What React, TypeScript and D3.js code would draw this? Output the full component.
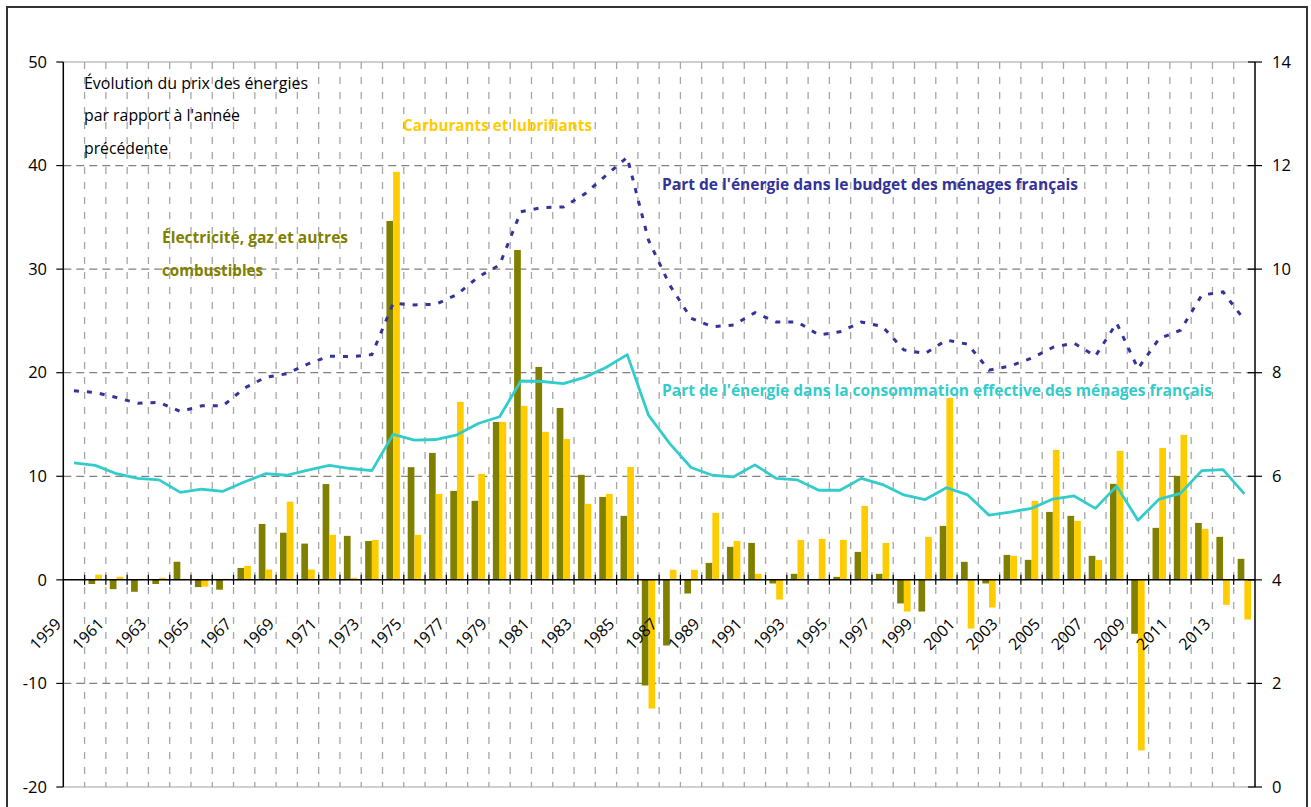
import React from "react";
import * as d3 from "d3";

// categories
const years = [
  1959, 1960, 1961, 1962, 1963, 1964, 1965, 1966, 1967, 1968,
  1969, 1970, 1971, 1972, 1973, 1974, 1975, 1976, 1977, 1978,
  1979, 1980, 1981, 1982, 1983, 1984, 1985, 1986, 1987, 1988,
  1989, 1990, 1991, 1992, 1993, 1994, 1995, 1996, 1997, 1998,
  1999, 2000, 2001, 2002, 2003, 2004, 2005, 2006, 2007, 2008,
  2009, 2010, 2011, 2012, 2013, 2014,
];

// price change vs previous year (%), left axis
const electricite = [
  null, -0.4, -0.9, -1.15, -0.4, 1.75, -0.7, -0.95, 1.15, 5.4,
  4.55, 3.5, 9.25, 4.25, 3.75, 34.65, 10.88, 12.26, 8.59, 7.63,
  15.25, 31.85, 20.56, 16.6, 10.14, 8.01, 6.18, -10.2, -6.34, -1.32,
  1.64, 3.19, 3.57, -0.35, 0.58, 0, 0.29, 2.7, 0.58, -2.28,
  -3.06, 5.21, 1.74, -0.35, 2.41, 1.93, 6.56, 6.18, 2.32, 9.27,
  -5.21, 5.02, 10.04, 5.5, 4.15, 2.03,
];
const carburants = [
  null, 0.5, 0.3, 0, 0.2, 0.1, -0.65, 0.1, 1.35, 1.0,
  7.55, 1.0, 4.35, 0.2, 3.85, 39.4, 4.34, 8.3, 17.18, 10.23,
  15.25, 16.8, 14.29, 13.6, 7.34, 8.3, 10.9, -12.42, 0.97, 0.97,
  6.47, 3.76, 0.58, -1.9, 3.86, 3.96, 3.86, 7.14, 3.57, -3.06,
  4.15, 17.57, -4.7, -2.67, 2.32, 7.63, 12.55, 5.69, 1.93, 12.45,
  -16.47, 12.74, 14.0, 4.92, -2.41, -3.83,
];

// energy share (%), right axis
const partBudget = [
  7.65, 7.62, 7.52, 7.41, 7.43, 7.25, 7.36, 7.36, 7.7, 7.91,
  7.98, 8.17, 8.32, 8.31, 8.35, 9.34, 9.31, 9.32, 9.51, 9.85,
  10.08, 11.11, 11.19, 11.2, 11.45, 11.81, 12.16, 10.56, 9.69, 9.05,
  8.89, 8.92, 9.16, 8.98, 8.98, 8.73, 8.79, 8.98, 8.89, 8.44,
  8.37, 8.63, 8.55, 8.05, 8.13, 8.28, 8.49, 8.57, 8.32, 8.96,
  8.08, 8.66, 8.82, 9.5, 9.56, 9.02,
];
const partConso = [
  6.26, 6.21, 6.05, 5.96, 5.93, 5.69, 5.75, 5.71, 5.89, 6.05,
  6.02, 6.12, 6.21, 6.15, 6.11, 6.81, 6.7, 6.71, 6.8, 7.02,
  7.15, 7.84, 7.83, 7.79, 7.91, 8.1, 8.35, 7.18, 6.63, 6.17,
  6.02, 5.99, 6.22, 5.96, 5.93, 5.73, 5.73, 5.96, 5.84, 5.64,
  5.55, 5.78, 5.64, 5.25, 5.31, 5.38, 5.56, 5.62, 5.38, 5.81,
  5.15, 5.56, 5.67, 6.11, 6.13, 5.66,
];

const leftTicks = [-20, -10, 0, 10, 20, 30, 40, 50];
const rightTicks = [0, 2, 4, 6, 8, 10, 12, 14];
const yearLabels = years.filter((y) => y % 2 === 1);

const OLIVE = "#808000";
const YELLOW = "#FFCC00";
const NAVY = "#333399";
const CYAN = "#33CCCC";
const FONT = "'Open Sans', 'DejaVu Sans', sans-serif";

const width = 1311;
const height = 807;
const left = 63.3;
const right = 1255;
const top = 62;
const bottom = 787;

export default function App() {
  const x = d3.scaleBand<number>().domain(years).range([left, right]).padding(0);
  const bw = x.bandwidth();
  const yL = d3.scaleLinear().domain([-20, 50]).range([bottom, top]);
  const yR = d3.scaleLinear().domain([0, 14]).range([bottom, top]);
  const barW = bw * 0.315;

  const lineGen = d3
    .line<number>()
    .x((d, i) => (x(years[i]) as number) + bw / 2)
    .y((d) => yR(d));

  // band boundaries for grid + ticks
  const bounds = years.slice(1).map((y) => x(y) as number);

  return (
    <svg
      width={width}
      height={height}
      style={{ position: "absolute", left: 0, top: 0, background: "#fff" }}
      fontFamily={FONT}
    >
      <rect x={7} y={7} width={1300} height={840} fill="#fff" stroke="#333" strokeWidth={2} />

      {/* vertical grid */}
      {bounds.map((bx, i) => (
        <line key={"vg" + i} x1={bx} x2={bx} y1={top} y2={bottom} stroke="#a6a6a6" strokeWidth={1.3} strokeDasharray="7 8" />
      ))}
      {/* horizontal grid */}
      {leftTicks.filter((t) => t !== 0 && t !== 50 && t !== -20).map((t) => (
        <line key={"hg" + t} x1={left} x2={right} y1={yL(t)} y2={yL(t)} stroke="#808080" strokeWidth={1.3} strokeDasharray="8 5" />
      ))}
      <line x1={left} x2={right} y1={yL(50)} y2={yL(50)} stroke="#a0a0a0" strokeWidth={1.2} />
      <line x1={left} x2={right} y1={yL(-20)} y2={yL(-20)} stroke="#a0a0a0" strokeWidth={1.2} />

      {/* bars */}
      {years.map((yr, i) => {
        const cx = (x(yr) as number) + bw / 2;
        const e = electricite[i];
        const c = carburants[i];
        return (
          <g key={"b" + yr}>
            {e !== null && (
              <rect x={cx - barW} width={barW} y={yL(Math.max(0, e))} height={Math.abs(yL(e) - yL(0))} fill={OLIVE} />
            )}
            {c !== null && (
              <rect x={cx} width={barW} y={yL(Math.max(0, c))} height={Math.abs(yL(c) - yL(0))} fill={YELLOW} />
            )}
          </g>
        );
      })}

      {/* zero axis */}
      <line x1={left} x2={right} y1={yL(0)} y2={yL(0)} stroke="#000" strokeWidth={1.5} />
      {bounds.map((bx, i) => (
        <line key={"zt" + i} x1={bx} x2={bx} y1={yL(0) - 5} y2={yL(0) + 5} stroke="#000" strokeWidth={1.2} />
      ))}

      {/* left axis */}
      <line x1={left} x2={left} y1={top} y2={bottom} stroke="#000" strokeWidth={1.5} />
      {leftTicks.map((t) => (
        <g key={"lt" + t}>
          <line x1={left - 7} x2={left} y1={yL(t)} y2={yL(t)} stroke="#000" strokeWidth={1.2} />
          <text x={47} y={yL(t)} dy="0.35em" textAnchor="end" fontSize={16.5} fill="#000">
            {t}
          </text>
        </g>
      ))}

      {/* right axis */}
      <line x1={right} x2={right} y1={top} y2={bottom} stroke="#000" strokeWidth={1.5} />
      {rightTicks.map((t) => (
        <g key={"rt" + t}>
          <line x1={right - 7} x2={right + 7} y1={yR(t)} y2={yR(t)} stroke="#000" strokeWidth={1.2} />
          <text x={1272} y={yR(t)} dy="0.35em" textAnchor="start" fontSize={16.5} fill="#000">
            {t}
          </text>
        </g>
      ))}

      {/* year labels */}
      {yearLabels.map((yr) => (
        <text
          key={"yl" + yr}
          transform={`translate(${(x(yr) as number) - 1},625) rotate(-45)`}
          textAnchor="end"
          fontSize={16}
          fill="#000"
        >
          {yr}
        </text>
      ))}

      {/* lines */}
      <path d={lineGen(partConso) || ""} fill="none" stroke={CYAN} strokeWidth={2.8} strokeLinejoin="round" />
      <path d={lineGen(partBudget) || ""} fill="none" stroke={NAVY} strokeWidth={3} strokeDasharray="5 8" />

      {/* annotations */}
      <g fontSize={16} fill="#000">
        <text x={84} y={89} textLength={224} lengthAdjust="spacingAndGlyphs">Évolution du prix des énergies</text>
        <text x={84} y={121} textLength={156} lengthAdjust="spacingAndGlyphs">par rapport à l'année</text>
        <text x={84} y={154} textLength={84} lengthAdjust="spacingAndGlyphs">précédente</text>
      </g>
      <g fontSize={16} fontWeight="bold">
        <text x={403} y={131} fill={YELLOW} textLength={189} lengthAdjust="spacingAndGlyphs">Carburants et lubrifiants</text>
        <text x={162} y={243} fill={OLIVE} textLength={186} lengthAdjust="spacingAndGlyphs">Électricité, gaz et autres</text>
        <text x={162} y={276} fill={OLIVE} textLength={101} lengthAdjust="spacingAndGlyphs">combustibles</text>
        <text x={662} y={190} fill={NAVY} textLength={416} lengthAdjust="spacingAndGlyphs">Part de l'énergie dans le budget des ménages français</text>
        <text x={662} y={396} fill={CYAN} textLength={550} lengthAdjust="spacingAndGlyphs">Part de l'énergie dans la consommation effective des ménages français</text>
      </g>
    </svg>
  );
}
